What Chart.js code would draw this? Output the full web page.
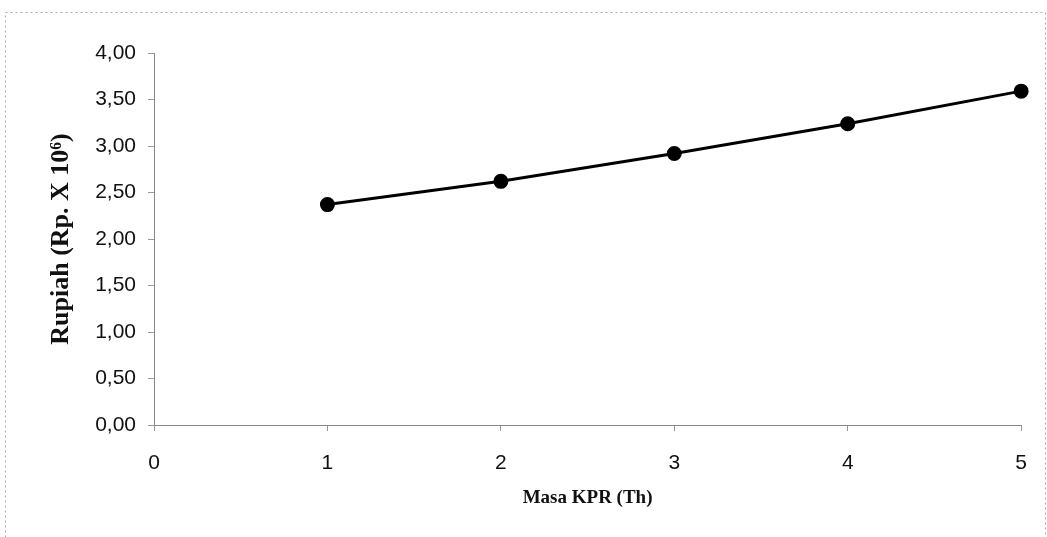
<!DOCTYPE html>
<html>
<head>
<meta charset="utf-8">
<script src="https://cdn.jsdelivr.net/npm/chart.js@4"></script>
<style>
  html, body { margin: 0; padding: 0; background: #fff; }
  #wrap { width: 1047px; height: 537px; }
</style>
</head>
<body>
<div id="wrap"><canvas id="myChart" width="1047" height="537"></canvas></div>
<script>
// masa KPR (tahun) dan rupiah (x 10^6)
var years = [1, 2, 3, 4, 5];
var rupiah = [2.37, 2.62, 2.92, 3.24, 3.59];
var yTicks = [0, 0.5, 1, 1.5, 2, 2.5, 3, 3.5, 4];
var xTicks = [0, 1, 2, 3, 4, 5];

var points = years.map(function (x, i) { return { x: x, y: rupiah[i] }; });

// dotted frame around the whole picture
var frame = {
    id: 'frame',
    beforeDraw: function (chart) {
        var c = chart.ctx;
        c.save();
        c.strokeStyle = '#aaa';
        c.lineWidth = 1;
        c.setLineDash([2, 3]);
        c.strokeRect(5.5, 12.5, 1040, 530);
        c.restore();
    }
};

var ctx = document.getElementById("myChart");
var myChart = new Chart(ctx, {
    type: 'scatter',
    data: {
        datasets: [{
            label: "Rupiah",
            data: points,
            showLine: true,
            clip: false,
            borderColor: '#000',
            backgroundColor: '#000',
            borderWidth: 3,
            pointRadius: 6,
            pointStyle: 'circle'
        }]
    },
    options: {
        responsive: false,
        animation: false,
        layout: { padding: { left: 10, top: 53, right: 13, bottom: 0 } },
        plugins: {
            legend: { display: false },
            tooltip: { enabled: false }
        },
        scales: {
            x: {
                type: 'linear',
                min: 0,
                max: 5,
                afterBuildTicks: function (s) { s.ticks = xTicks.map(function (v) { return { value: v }; }); },
                afterFit: function (s) { s.height = 537 - 425; },
                grid: { drawOnChartArea: false, color: '#999', tickLength: 6 },
                border: { color: '#888', dash: [2, 2], width: 1 },
                ticks: {
                    color: '#111',
                    padding: 20,
                    font: { family: 'Liberation Sans', size: 21 }
                },
                title: {
                    display: true,
                    text: 'Masa KPR (Th)',
                    color: '#111',
                    font: { family: 'Liberation Serif', size: 19, weight: 'bold' },
                    padding: { top: 0, bottom: 28 }
                }
            },
            y: {
                min: 0,
                max: 4,
                afterBuildTicks: function (s) { s.ticks = yTicks.map(function (v) { return { value: v }; }); },
                afterFit: function (s) { s.width = 154 - 10; },
                grid: { drawOnChartArea: false, color: '#999', tickLength: 6 },
                border: { color: '#888', dash: [2, 2], width: 1 },
                ticks: {
                    color: '#111',
                    padding: 12,
                    font: { family: 'Liberation Sans', size: 21 },
                    callback: function (v) { return v.toFixed(2).replace('.', ','); }
                },
                title: {
                    display: true,
                    text: 'Rupiah (Rp. X 10⁶)',
                    color: '#111',
                    font: { family: 'Liberation Serif', size: 26, weight: 'bold' },
                    padding: { top: 36, bottom: 0 }
                }
            }
        }
    },
    plugins: [frame]
});
</script>
</body>
</html>
